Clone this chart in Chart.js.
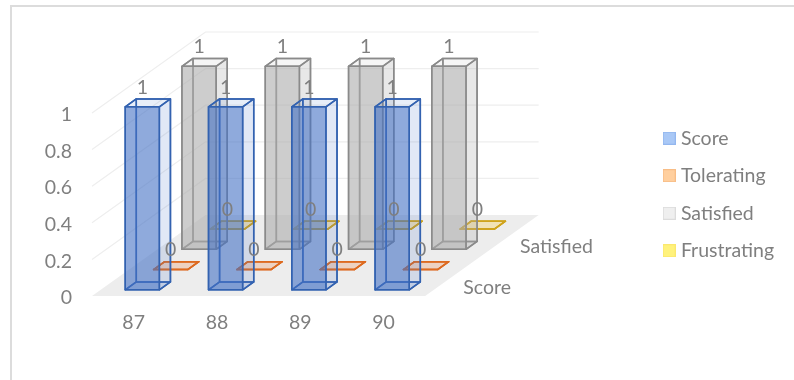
<!DOCTYPE html>
<html>
<head>
<meta charset="utf-8">
<title>Score by row</title>
<script src="https://cdn.jsdelivr.net/npm/chart.js@4"></script>
<style>
    html, body { margin: 0; background: #fff; }
    #wrap { position: relative; width: 794px; height: 380px; overflow: hidden; }
    #frame { position: absolute; left: 10px; top: 5px; width: 800px; height: 400px; border-left: 2px solid #dcdcdc; border-top: 2px solid #dcdcdc; }
    canvas { position: absolute; left: 0; top: 0; }
</style>
</head>
<body>
<div id="wrap">
    <div id="frame"></div>
    <canvas id="myChart" width="794" height="380"></canvas>
</div>
<script>
var categories = ['87', '88', '89', '90'];
var rows = ['Score', 'Tolerating', 'Satisfied', 'Frustrating'];
var scoreValues = [1, 1, 1, 1];
var toleratingValues = [0, 0, 0, 0];
var satisfiedValues = [1, 1, 1, 1];
var frustratingValues = [0, 0, 0, 0];

var textColor = '#7f7f7f';
var fontFamily = "Lato, 'Noto Sans', sans-serif";
var fontSize = 19.5;

// oblique projection: how far the back of the floor sits from the front edge
var floorDX = 113.5;
var floorDY = -81;
var rowFill = 0.39;

var palette = [
    { rgb: '68,114,196', side: 0.16, line: '#3362b0', swatch: '#a9c8f6', swatchLine: '#93b7ef' },
    { rgb: '237,125,49', side: 0.16, line: '#dd6a20', swatch: '#ffcf9e', swatchLine: '#f8bd86' },
    { rgb: '172,172,172', side: 0.28, line: '#8a8a8a', swatch: '#efefef', swatchLine: '#dcdcdc' },
    { rgb: '255,192,0', side: 0.16, line: '#cfa31c', swatch: '#fff27c', swatchLine: '#fbe86e' }
];

function makeSwatch(c) {
    var s = document.createElement('canvas');
    s.width = 13;
    s.height = 13;
    var g = s.getContext('2d');
    g.fillStyle = c.swatch;
    g.fillRect(0, 0, 13, 13);
    g.strokeStyle = c.swatchLine;
    g.lineWidth = 1;
    g.strokeRect(0.5, 0.5, 12, 12);
    return s;
}
var swatches = palette.map(makeSwatch);

// front fraction of a row along the depth axis
function rowFront(chart, i) {
    var z = chart.scales.z;
    return (z.getPixelForValue(i) - z.top) / z.height - rowFill / z.ticks.length / 2;
}

function poly(ctx, pts, fill, stroke) {
    ctx.beginPath();
    ctx.moveTo(pts[0][0], pts[0][1]);
    for (var i = 1; i < pts.length; i++) {
        ctx.lineTo(pts[i][0], pts[i][1]);
    }
    ctx.closePath();
    if (fill) {
        ctx.fillStyle = fill;
        ctx.fill();
    }
    if (stroke) {
        ctx.strokeStyle = stroke;
        ctx.stroke();
    }
}

class Bar3dController extends Chart.BarController {
    draw() {
        var chart = this.chart;
        var ctx = chart.ctx;
        var idx = this.index;
        var c = palette[idx];
        var front = rowFront(chart, idx);
        var depth = rowFill / chart.scales.z.ticks.length;
        var ox = front * floorDX, oy = front * floorDY;
        var bx = depth * floorDX, by = depth * floorDY;

        ctx.save();
        ctx.lineWidth = 1.5;
        ctx.lineJoin = 'round';
        this.getMeta().data.forEach(function (bar) {
            var p = bar.getProps(['x', 'y', 'base', 'width'], true);
            var l = p.x - p.width / 2 + ox, r = p.x + p.width / 2 + ox;
            var t = p.y + oy, b = p.base + oy;

            // hidden edges first, so the see-through faces sit over them
            poly(ctx, [[l, b], [r, b], [r + bx, b + by], [l + bx, b + by]], 'rgba(' + c.rgb + ',0.12)', c.line);
            poly(ctx, [[l + bx, b + by], [r + bx, b + by], [r + bx, t + by], [l + bx, t + by]], null, c.line);
            poly(ctx, [[l, b], [l + bx, b + by], [l + bx, t + by], [l, t]], null, c.line);
            poly(ctx, [[r, b], [r + bx, b + by], [r + bx, t + by], [r, t]], 'rgba(' + c.rgb + ',' + c.side + ')', c.line);
            poly(ctx, [[l, t], [r, t], [r + bx, t + by], [l + bx, t + by]], 'rgba(' + c.rgb + ',0.12)', c.line);
            poly(ctx, [[l, b], [r, b], [r, t], [l, t]], 'rgba(' + c.rgb + ',0.6)', c.line);
        });
        ctx.restore();
    }
}
Bar3dController.id = 'bar3d';
Bar3dController.defaults = Chart.BarController.defaults;
Chart.register(Bar3dController);

var wallsAndLabels = {
    id: 'wallsAndLabels',
    beforeDatasetsDraw: function (chart) {
        var ctx = chart.ctx;
        var x = chart.scales.x, y = chart.scales.y;
        var y0 = y.getPixelForValue(0);
        ctx.save();
        // floor
        poly(ctx, [
            [x.left, y0], [x.right, y0],
            [x.right + floorDX, y0 + floorDY], [x.left + floorDX, y0 + floorDY]
        ], '#ededed');
        // gridlines run up the side wall, then along the back wall
        ctx.strokeStyle = '#eeeeee';
        ctx.lineWidth = 1.2;
        y.ticks.forEach(function (tick) {
            if (tick.value === 0) return;
            var py = y.getPixelForValue(tick.value);
            ctx.beginPath();
            ctx.moveTo(x.left, py);
            ctx.lineTo(x.left + floorDX, py + floorDY);
            ctx.lineTo(x.right + floorDX, py + floorDY);
            ctx.stroke();
        });
        ctx.restore();
    },
    afterDatasetsDraw: function (chart) {
        var ctx = chart.ctx;
        var x = chart.scales.x, y = chart.scales.y, z = chart.scales.z;
        var y0 = y.getPixelForValue(0);
        ctx.save();
        ctx.fillStyle = textColor;
        ctx.font = fontSize + 'px ' + fontFamily;
        ctx.textBaseline = 'middle';

        // value tick labels sit a touch low of the middle baseline in this font
        ctx.textAlign = 'right';
        y.ticks.forEach(function (tick) {
            ctx.fillText(tick.label, x.left - 20, y.getPixelForValue(tick.value) + 2);
        });

        // value labels, last row first
        ctx.textAlign = 'center';
        for (var i = chart.data.datasets.length - 1; i >= 0; i--) {
            var front = rowFront(chart, i);
            chart.getDatasetMeta(i).data.forEach(function (bar, n) {
                ctx.fillText(String(chart.data.datasets[i].data[n]),
                    bar.x + front * floorDX, bar.y + front * floorDY - 19.5);
            });
        }

        // depth axis only has room for every other row name
        ctx.textAlign = 'left';
        rows.forEach(function (name, i) {
            if (i % 2) return;
            var f = (z.getPixelForValue(i) - z.top) / z.height;
            ctx.fillText(name, x.right + f * floorDX + 24, y0 + f * floorDY + 1.5);
        });
        ctx.restore();
    }
};

var seriesValues = [scoreValues, toleratingValues, satisfiedValues, frustratingValues];

var myChart = new Chart(document.getElementById('myChart').getContext('2d'), {
    type: 'bar3d',
    data: {
        labels: categories,
        datasets: rows.map(function (name, i) {
            return {
                label: name,
                data: seriesValues[i],
                grouped: false,
                clip: false,
                barPercentage: 0.41,
                categoryPercentage: 1
            };
        })
    },
    plugins: [wallsAndLabels],
    options: {
        responsive: false,
        animation: false,
        layout: { padding: { top: 9, right: 15, left: 0, bottom: 0 } },
        plugins: {
            tooltip: { enabled: false },
            // empty title only reserves the room above the front plane
            title: { display: true, text: '', fullSize: false, padding: { top: 89.6, bottom: 0 } },
            legend: {
                position: 'right',
                labels: {
                    usePointStyle: true,
                    pointStyleWidth: 4,
                    padding: 18,
                    color: textColor,
                    font: { family: fontFamily, size: fontSize },
                    generateLabels: function (chart) {
                        return chart.data.datasets.map(function (ds, i) {
                            return { text: ds.label, pointStyle: swatches[i], datasetIndex: i, fontColor: textColor };
                        });
                    }
                }
            }
        },
        scales: {
            x: {
                type: 'category',
                offset: true,
                grid: { display: false, drawTicks: false },
                border: { display: false },
                ticks: { color: textColor, padding: 15, maxRotation: 0, font: { family: fontFamily, size: fontSize } },
                afterFit: function (scale) { scale.height = 84; }
            },
            y: {
                type: 'linear',
                min: 0,
                max: 1,
                grid: { display: false, drawTicks: false },
                border: { display: false },
                ticks: {
                    display: false,
                    stepSize: 0.2,
                    callback: function (value) { return String(Number(value.toFixed(1))); }
                },
                afterFit: function (scale) { scale.width = 92; }
            },
            // depth axis: positions come from here, its room on the right is the floor overhang
            z: {
                type: 'category',
                axis: 'y',
                position: 'right',
                labels: rows,
                offset: true,
                grid: { display: false, drawTicks: false },
                border: { display: false },
                ticks: { display: false },
                afterFit: function (scale) { scale.width = 224; }
            }
        }
    }
});
</script>
</body>
</html>
